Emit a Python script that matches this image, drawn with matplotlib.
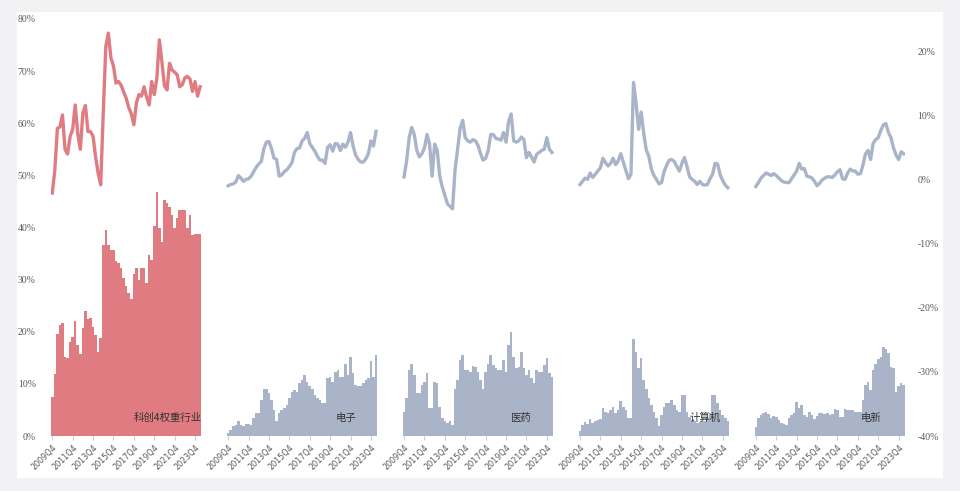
import numpy as np
import matplotlib
matplotlib.use("Agg")
import matplotlib.pyplot as plt
from matplotlib.patches import Rectangle

plt.rcParams['font.family'] = ['Noto Sans CJK SC', 'DejaVu Sans']
plt.rcParams['axes.unicode_minus'] = False

# 季度：2009Q4 ~ 2024Q2
quarters = [f"{y}Q{q}" for y in range(2009, 2025) for q in range(1, 5)]
quarters = quarters[quarters.index("2009Q4"):quarters.index("2024Q2") + 1]

names = ["科创4权重行业", "电子", "医药", "计算机", "电新"]

# 柱：左轴（%）
bars_kc = [7.4, 11.8, 19.5, 21.2, 21.6, 15.2, 14.9, 18.0, 18.9, 22.1, 17.5, 15.7, 20.7, 23.9, 22.5,
           22.7, 21.0, 19.4, 16.2, 18.8, 36.7, 39.5, 36.7, 35.7, 35.7, 33.5, 33.2, 32.2, 30.3, 28.7,
           27.4, 26.2, 31.0, 32.2, 30.0, 32.2, 32.2, 29.4, 34.8, 33.8, 40.2, 46.9, 39.9, 37.3, 45.3,
           44.7, 44.0, 42.4, 39.9, 41.8, 43.4, 43.4, 43.4, 39.9, 42.4, 38.5, 38.8, 38.8, 38.8]
bars_dz = [0.5, 1.2, 1.9, 2.1, 2.8, 2.1, 1.9, 2.3, 2.3, 2.1, 3.4, 4.4, 4.5, 6.9, 9.1,
           9.0, 8.2, 6.9, 5.0, 2.8, 4.4, 5.0, 5.3, 6.0, 7.2, 8.5, 8.8, 8.5, 10.1, 10.7,
           11.7, 10.4, 9.5, 9.1, 7.9, 7.2, 6.9, 6.3, 6.3, 11.1, 11.4, 10.4, 12.3, 12.7, 11.4,
           11.4, 13.9, 11.7, 15.2, 12.0, 9.8, 9.5, 9.5, 10.1, 10.7, 11.1, 14.3, 11.4, 15.5]
bars_yy = [4.7, 7.2, 12.7, 13.9, 11.7, 8.2, 8.2, 9.8, 10.4, 12.0, 5.3, 5.3, 10.4, 10.1, 5.6,
           3.4, 2.8, 2.4, 2.8, 2.2, 9.1, 10.7, 14.6, 15.5, 12.7, 12.7, 12.3, 13.4, 13.3, 12.3,
           10.7, 9.1, 12.3, 13.9, 15.5, 13.6, 13.0, 12.7, 12.7, 14.6, 12.3, 17.5, 20.0, 15.2, 13.0,
           13.3, 16.2, 13.0, 11.7, 12.7, 11.1, 10.1, 12.7, 12.3, 12.3, 13.6, 14.9, 12.0, 11.4]
bars_jsj = [1.0, 2.1, 2.6, 2.3, 3.2, 2.4, 2.8, 3.1, 3.2, 5.3, 4.7, 4.4, 4.9, 5.5, 4.4,
            4.9, 6.8, 5.5, 5.0, 3.5, 3.5, 18.7, 16.2, 13.0, 14.9, 10.7, 9.1, 7.2, 6.0, 4.7,
            3.4, 1.9, 4.0, 5.6, 6.3, 6.4, 6.9, 6.0, 5.0, 4.7, 7.9, 7.9, 4.7, 3.7, 3.1,
            2.8, 2.4, 2.6, 2.8, 2.8, 3.4, 4.4, 7.9, 7.9, 6.3, 5.0, 4.0, 3.4, 2.9]
bars_dx = [1.8, 3.4, 4.0, 4.4, 4.7, 4.2, 3.4, 3.8, 3.7, 3.1, 2.4, 2.3, 2.1, 3.4, 4.0,
           4.4, 6.6, 5.3, 6.0, 4.0, 3.7, 4.7, 4.0, 3.2, 3.8, 4.4, 4.4, 4.2, 4.5, 4.0,
           4.2, 5.1, 5.0, 3.6, 3.6, 5.1, 5.0, 4.9, 5.0, 4.7, 4.7, 4.7, 6.9, 9.8, 10.4,
           8.8, 12.7, 13.9, 14.7, 15.2, 17.0, 16.6, 15.9, 13.2, 13.0, 8.5, 9.6, 10.2, 9.8]

# 线：科创4权重行业用左轴，其余用右轴（%）
line_kc = [46.6, 51.0, 59.0, 59.3, 61.6, 55.0, 54.1, 57.5, 58.8, 63.5, 58.0, 55.0, 62.0, 63.4, 58.4,
           58.4, 57.5, 53.5, 50.4, 48.2, 62.0, 74.7, 77.3, 72.5, 71.0, 67.7, 68.0, 67.3, 66.0, 64.8,
           63.0, 61.8, 59.7, 63.9, 65.5, 65.2, 67.0, 65.0, 63.5, 68.0, 65.5, 68.5, 76.0, 71.8, 67.2,
           66.4, 71.5, 70.2, 69.8, 69.3, 67.0, 67.4, 68.7, 69.0, 68.5, 66.1, 68.0, 65.2, 67.0]
line_dz = [-1.0, -0.8, -0.7, -0.4, 0.6, 0.2, -0.3, 0.0, 0.1, 0.5, 1.2, 1.9, 2.4, 2.8, 4.8,
           5.8, 5.9, 4.8, 3.3, 3.1, 0.5, 0.7, 1.2, 1.5, 2.0, 2.6, 4.2, 4.8, 4.9, 6.0,
           6.4, 7.3, 5.6, 5.0, 4.4, 3.6, 3.0, 3.0, 2.5, 5.0, 5.4, 4.4, 5.6, 5.5, 4.5,
           5.5, 5.0, 5.8, 7.3, 5.2, 3.8, 3.1, 2.7, 2.7, 3.2, 4.0, 6.0, 5.2, 7.5]
line_yy = [0.4, 2.9, 6.5, 8.1, 7.0, 4.5, 3.5, 4.0, 4.9, 7.0, 5.5, 0.5, 5.5, 4.5, 0.5,
           -1.2, -2.5, -3.8, -4.2, -4.6, 1.5, 4.7, 8.0, 9.2, 6.5, 6.0, 5.8, 6.2, 6.0, 5.3,
           4.0, 3.0, 3.3, 4.5, 7.0, 7.0, 6.4, 6.3, 6.1, 7.3, 5.8, 9.0, 10.2, 6.0, 5.8,
           6.0, 6.6, 6.2, 3.4, 4.2, 3.5, 2.7, 3.9, 4.2, 4.5, 4.7, 6.5, 4.7, 4.2]
line_jsj = [-0.8, -0.3, 0.2, 0.0, 1.0, 0.3, 0.8, 1.3, 1.8, 3.3, 2.6, 2.1, 2.5, 3.3, 2.3,
            2.9, 4.0, 2.7, 1.4, 0.1, 0.8, 15.1, 11.9, 7.8, 10.5, 7.2, 4.6, 3.6, 1.6, 0.6,
            0.0, -0.7, -0.5, 1.2, 2.2, 3.0, 3.1, 2.8, 2.0, 1.3, 2.5, 3.4, 2.0, 0.4, 0.0,
            -0.3, -0.8, -0.3, -0.8, -0.9, -0.8, 0.1, 0.8, 2.5, 2.4, 0.7, -0.2, -0.9, -1.3]
line_dx = [-1.1, -0.5, 0.2, 0.6, 1.0, 0.8, 0.6, 0.9, 0.6, 0.2, -0.2, -0.4, -0.5, -0.5, 0.1,
           0.7, 1.3, 2.5, 1.6, 1.7, 0.5, 0.4, 0.2, -0.3, -1.0, -0.6, -0.1, 0.2, 0.4, 0.4,
           0.3, 0.7, 1.2, 1.5, 0.1, 0.0, 1.0, 1.6, 1.3, 1.3, 0.8, 0.9, 2.2, 4.0, 4.5,
           3.1, 5.6, 6.2, 6.5, 7.6, 8.5, 8.7, 7.3, 6.5, 4.9, 3.8, 3.1, 4.3, 4.0]

bars = [bars_kc, bars_dz, bars_yy, bars_jsj, bars_dx]
lines = [line_kc, line_dz, line_yy, line_jsj, line_dx]

red = '#e07b82'
grey = '#a9b4c9'
n = len(quarters)
step = n + 10          # 每个行业之间空 10 个季度
label_x = [58.7, 50.2, 49.8, 55.3, 49.1]

fig = plt.figure(figsize=(9.6, 4.91), dpi=100, facecolor='#f2f2f4')
fig.patches.append(Rectangle((17 / 960, 1 - 478 / 491), 926 / 960, 466 / 491,
                             transform=fig.transFigure, facecolor='white',
                             edgecolor='none', zorder=-10))

ax = fig.add_axes([51 / 960, 1 - 436 / 491, 854 / 960, 417 / 491])
ax.patch.set_alpha(0)
ax2 = ax.twinx()
ax2.patch.set_alpha(0)

ticks, ticklabels = [], []
for k in range(5):
    off = k * step
    x = np.arange(n) + off
    c = red if k == 0 else grey
    ax.bar(x, bars[k], width=1.0, color=c, linewidth=0, antialiased=False, zorder=2)
    if k == 0:
        ax.plot(x, lines[k], color=c, lw=2.4, zorder=3, solid_joinstyle='round')
    else:
        ax2.plot(x, lines[k], color=c, lw=2.4, zorder=3, solid_joinstyle='round')
    ax.hlines(0, off - 0.5, off + n - 0.5, color='#d0d0d0', lw=0.8, zorder=1)
    ax.text(off + label_x[k], 3.4, names[k], ha='right', va='center',
            fontsize=7.5, color='#333333', zorder=4)
    for j in range(0, n, 8):
        ticks.append(off + j)
        ticklabels.append(quarters[j])

ax.set_xlim(-0.5, 4 * step + n - 0.5)
ax.set_ylim(0, 80)
ax2.set_ylim(-40, 25)
ax.set_yticks(range(0, 81, 10))
ax.set_yticklabels([f"{v}%" for v in range(0, 81, 10)], family='Liberation Serif',
                   fontsize=7, color='#595959')
ax2.set_yticks(range(-40, 21, 10))
ax2.set_yticklabels([f"{v}%" for v in range(-40, 21, 10)], family='Liberation Serif',
                    fontsize=7, color='#595959')
ax.set_xticks(ticks)
ax.set_xticklabels(ticklabels, rotation=45, ha='right', rotation_mode='anchor',
                   fontsize=5.8, color='#595959', family='DejaVu Sans')

for a in (ax, ax2):
    for s in a.spines.values():
        s.set_visible(False)
ax.tick_params(axis='y', length=0, pad=11)
ax2.tick_params(axis='y', length=0, pad=9)
ax.tick_params(axis='x', length=3, color='#cccccc', pad=2)

fig.savefig('out.png', dpi=100, facecolor=fig.get_facecolor())
